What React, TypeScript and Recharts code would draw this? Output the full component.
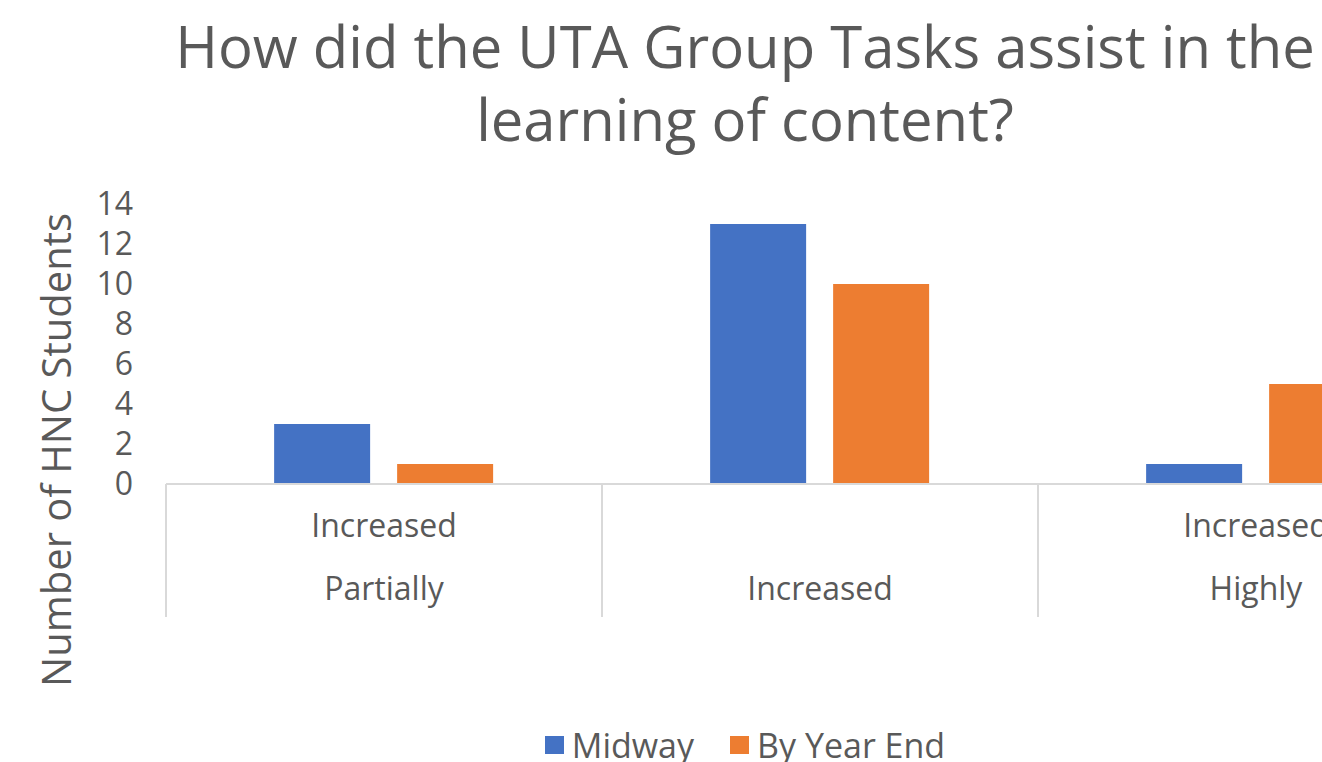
import React from 'react';
import { BarChart, Bar, XAxis, YAxis, Legend } from 'recharts';

const categories: string[][] = [['Increased', 'Partially'], ['Increased'], ['Increased', 'Highly']];
const midway: number[] = [3, 13, 1];
const byYearEnd: number[] = [1, 10, 5];
const yTicks: number[] = [0, 2, 4, 6, 8, 10, 12, 14];
const seriesNames = ['Midway', 'By Year End'];
const colors = ['#4472C4', '#ED7D31'];

const data = categories.map((c, i) => ({ key: String(i), lines: c, midway: midway[i], byYearEnd: byYearEnd[i] }));

const CHART_W = 1490;
const CHART_H = 762;
const M_LEFT = 166;
const M_RIGHT = 16;
const M_TOP = 204;
const X_AXIS_H = 150;
const M_BOTTOM = 278 - X_AXIS_H;
const BAND = (CHART_W - M_LEFT - M_RIGHT) / categories.length;
const FONT = '"Open Sans", sans-serif';
const TEXT = '#595959';
const GRID = '#D9D9D9';

const XTick = (props: any) => {
  const { x, y, index } = props;
  const lines = categories[index] || [];
  const lineGap = 63;
  const lastBaseline = y + 116;
  const half = BAND / 2;
  return (
    <g>
      <line x1={x - half} y1={y} x2={x - half} y2={y + 133} stroke={GRID} strokeWidth={2} />
      {index === categories.length - 1 && (
        <line x1={x + half} y1={y} x2={x + half} y2={y + 133} stroke={GRID} strokeWidth={2} />
      )}
      {lines.map((l, i) => (
        <text key={i} x={x} y={lastBaseline - (lines.length - 1 - i) * lineGap} textAnchor="middle" fill={TEXT} fontSize={32} fontFamily={FONT}>
          {l}
        </text>
      ))}
    </g>
  );
};

const LegendContent = () => (
  <div style={{ display: 'flex', justifyContent: 'center', fontFamily: FONT, fontSize: 34, lineHeight: '40px', color: TEXT }}>
    {seriesNames.map((n, i) => (
      <div key={n} style={{ display: 'flex', alignItems: 'center', marginRight: i === 0 ? 36 : 0 }}>
        <span style={{ display: 'inline-block', width: 19, height: 18, background: colors[i], marginRight: 8 }} />
        <span>{n}</span>
      </div>
    ))}
  </div>
);

export default function App() {
  return (
    <div style={{ position: 'fixed', left: 0, top: 0, width: 1322, height: 762, overflow: 'hidden', background: '#fff' }}>
      <div style={{ position: 'absolute', left: 0, top: 0, width: CHART_W, height: CHART_H }}>
        <BarChart
          width={CHART_W}
          height={CHART_H}
          data={data}
          margin={{ top: M_TOP, right: M_RIGHT, bottom: M_BOTTOM, left: 0 }}
          barCategoryGap="24.8%"
          barGap={27}
        >
          <XAxis
            dataKey="key"
            axisLine={{ stroke: GRID, strokeWidth: 2 }}
            tickLine={false}
            tickSize={0}
            tickMargin={0}
            tick={<XTick />}
            interval={0}
            height={X_AXIS_H}
          />
          <YAxis
            width={M_LEFT}
            domain={[0, 14]}
            ticks={yTicks}
            interval={0}
            axisLine={false}
            tickLine={false}
            tickSize={0}
            tickMargin={33}
            tick={{ fill: TEXT, fontSize: 32, fontFamily: FONT }}
            label={{
              content: () => (
                <text x={71} y={450} transform="rotate(-90 71 450)" textAnchor="middle" fill={TEXT} fontSize={40} fontFamily={FONT}>
                  Number of HNC Students
                </text>
              ),
            }}
          />
          <Legend
            layout="horizontal"
            verticalAlign="middle"
            align="center"
            wrapperStyle={{ top: 725, left: 0, width: CHART_W }}
            content={<LegendContent />}
          />
          <Bar dataKey="midway" name={seriesNames[0]} fill={colors[0]} isAnimationActive={false} />
          <Bar dataKey="byYearEnd" name={seriesNames[1]} fill={colors[1]} isAnimationActive={false} />
        </BarChart>
        <div
          style={{
            position: 'absolute',
            left: 0,
            top: 9,
            width: CHART_W,
            textAlign: 'center',
            fontFamily: FONT,
            fontSize: 58,
            lineHeight: '73px',
            color: TEXT,
          }}
        >
          How did the UTA Group Tasks assist in the
          <br />
          learning of content?
        </div>
      </div>
    </div>
  );
}
